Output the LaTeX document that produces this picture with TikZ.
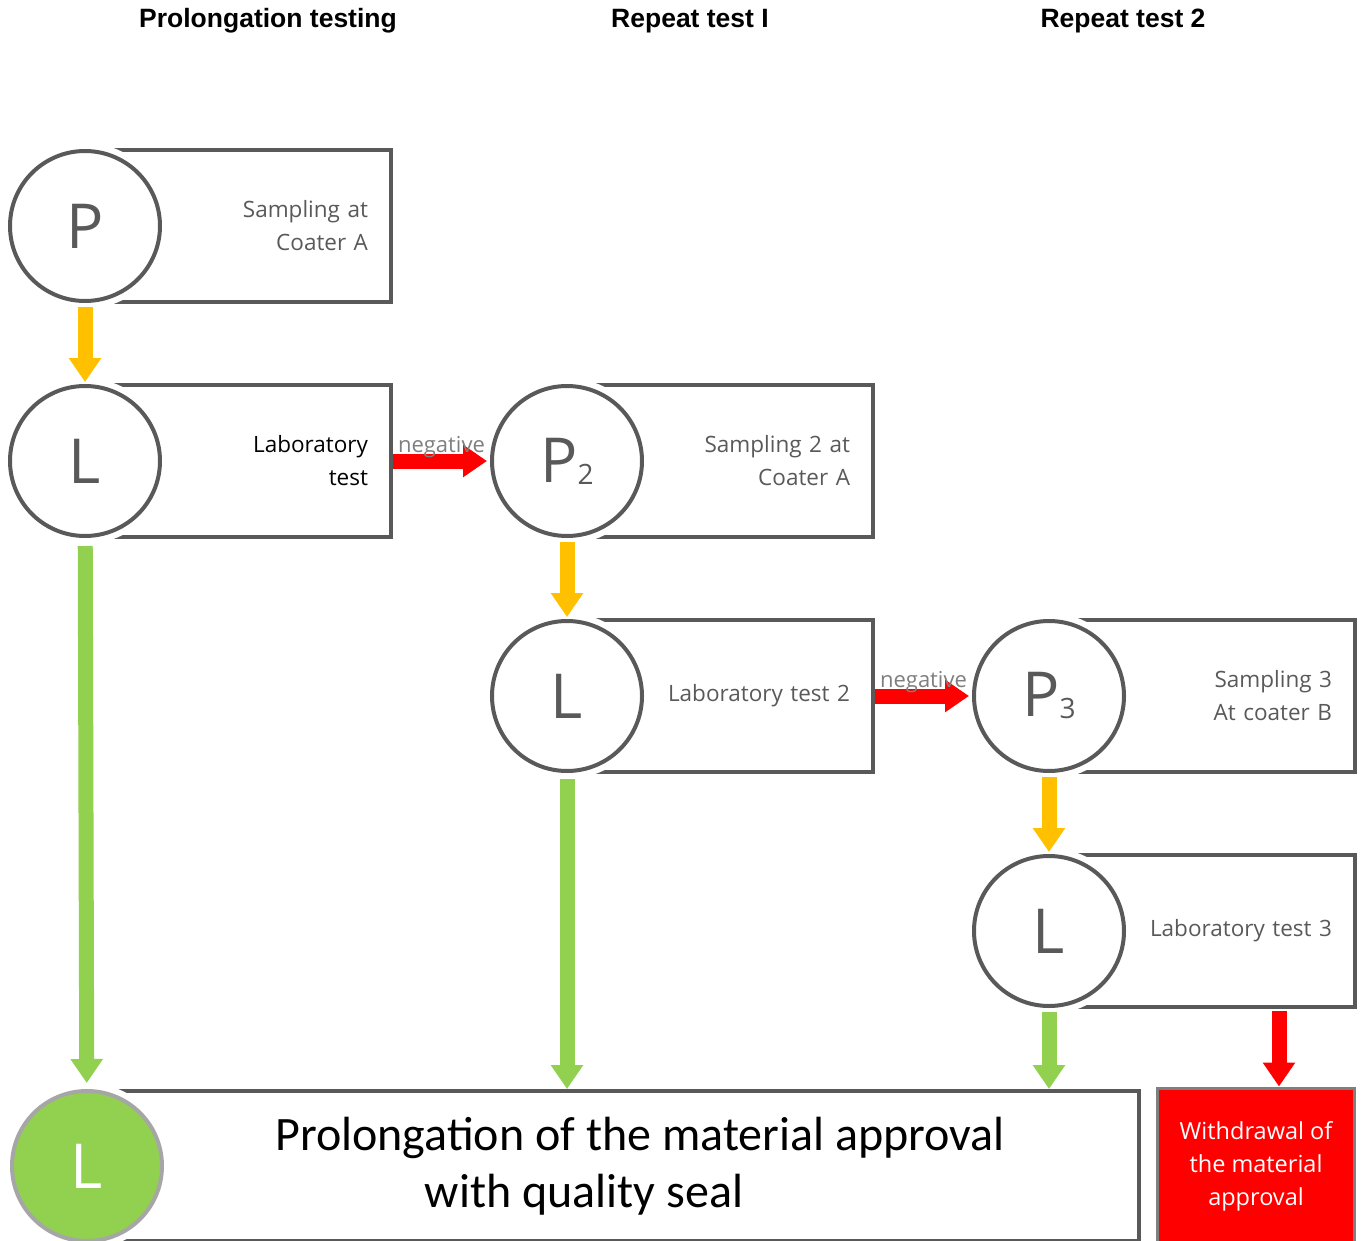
\documentclass[tikz,border=0pt]{standalone}
\usepackage{fontspec}
\setmainfont{Open Sans}
\newfontfamily\headfont{Liberation Sans}
\newfontfamily\bigfont{Carlito}
\usetikzlibrary{arrows.meta,positioning}
\definecolor{boxgray}{HTML}{595959}
\definecolor{neggray}{HTML}{7F7F7F}
\definecolor{ringgray}{HTML}{A6A6A6}
\definecolor{yellowc}{HTML}{FFC000}
\definecolor{greenc}{HTML}{92D050}
\definecolor{redc}{HTML}{FF0000}
\newcommand{\stagesub}[1]{\raisebox{-2pt}{\fontsize{28}{28}\selectfont #1}}

\begin{document}
\begin{tikzpicture}[x=1pt,y=-1pt]
    \tikzset{
        head/.style = {font=\headfont\bfseries\fontsize{26.5}{30}\selectfont},
        stepbox/.style = {rectangle, draw=boxgray, line width=4pt, minimum width=304pt, minimum height=152pt,
            inner xsep=23pt, text width=258pt, align=right, text=boxgray, font=\fontsize{22.5}{33}\selectfont, node distance=79pt},
        stage/.style = {circle, draw=boxgray, line width=4pt, fill=white, minimum size=150pt, inner sep=0pt,
            text=boxgray, font=\fontsize{62}{62}\selectfont, preaction={draw=white, line width=16pt}},
        flow/.style = {line width=15pt, -{Triangle[width=31pt,length=24pt]}},
        neg/.style = {font=\fontsize{22}{24}\selectfont, text=neggray, anchor=base, yshift=9pt},
    }
    \useasboundingbox (0,0) rectangle (1363,1241);

    \node [head] (h1) at (268,21) {Prolongation testing};
    \node [head] (h2) at (690,21) {Repeat test I};
    \node [head] (h3) at (1123,21) {Repeat test 2};

    \node [stepbox] (pbox1) at (239,226) {Sampling at\\Coater A};
    \node [stepbox,below=of pbox1,text=black] (lbox1) {Laboratory\\test};
    \node [stepbox,right=174pt of lbox1] (pbox2) {Sampling 2 at\\Coater A};
    \node [stepbox,below=of pbox2] (lbox2) {Laboratory test 2};
    \node [stepbox,right=174pt of lbox2] (pbox3) {Sampling 3\\At coater B};
    \node [stepbox,below=of pbox3] (lbox3) {Laboratory test 3};

    \node [stage] (p1) at (pbox1.west) {P};
    \node [stage] (l1) at (lbox1.west) {L};
    \node [stage] (p2) at (pbox2.west) {P\stagesub{2}};
    \node [stage] (l2) at (lbox2.west) {L};
    \node [stage] (p3) at (pbox3.west) {P\stagesub{3}};
    \node [stage] (l3) at (lbox3.west) {L};

    % bottom row
    \node [rectangle, draw=boxgray, line width=4pt, minimum width=1050pt, minimum height=150pt, anchor=west,
        font=\bigfont\fontsize{48}{57}\selectfont, align=center] (final) at (87,1166)
        {\hspace*{52pt}Prolongation of the material approval\\with quality seal\hspace*{60pt}};
    \node [stage, fill=greenc, draw=ringgray, text=white] (gl) at (final.west) {L};
    \node [rectangle, draw=neggray, line width=3pt, fill=redc, minimum width=197pt, minimum height=156pt,
        right=15pt of final, text=white, align=center, font=\fontsize{23.5}{33}\selectfont] (withdraw)
        {Withdrawal of\\the material\\approval};

    \draw [flow, yellowc, shorten <=4pt, shorten >=2pt] (p1) -- (l1);
    \draw [flow, yellowc, shorten <=4pt, shorten >=2pt] (p2) -- (l2);
    \draw [flow, yellowc, shorten <=4pt, shorten >=2pt] (p3) -- (l3);

    \draw [flow, redc, shorten >=3pt] (lbox1) -- node [neg] {negative} (p2);
    \draw [flow, redc, shorten >=3pt] (lbox2) -- node [neg] {negative} (p3);

    \draw [flow, greenc, shorten <=8pt, shorten >=6pt] (l1) -- (gl);
    \draw [flow, greenc, shorten <=6pt] (l2) -- (l2 |- final.north);
    \draw [flow, greenc, shorten <=4pt] (l3) -- (l3 |- final.north);
    \draw [flow, redc, shorten <=2pt] ([xshift=76pt]lbox3.south) -- ([xshift=76pt]lbox3.south |- withdraw.north);
\end{tikzpicture}
\end{document}
